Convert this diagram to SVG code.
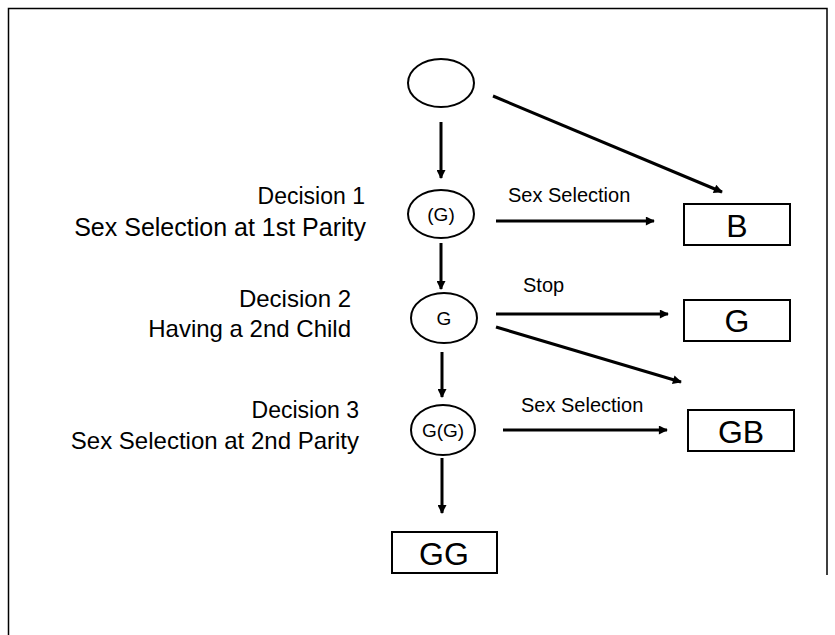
<svg xmlns="http://www.w3.org/2000/svg" width="835" height="635" viewBox="0 0 835 635">
<defs>
<marker id="ah" viewBox="0 0 10 10" refX="9" refY="5" markerWidth="3.6" markerHeight="3" markerUnits="strokeWidth" orient="auto">
<path d="M0,0 L10,5 L0,10 z" fill="#000"/>
</marker>
<style>
.n{fill:#fff;stroke:#000;stroke-width:2}
.c{stroke:#000;stroke-width:3;fill:none;marker-end:url(#ah)}
text{font-family:"Liberation Sans",Arial,sans-serif;fill:#000}
.lab{font-size:24px;text-anchor:end}
.el{font-size:20px}
.nt{font-size:19px;text-anchor:middle}
.bt{font-size:32px;text-anchor:middle}
</style>
</defs>
<rect width="835" height="635" fill="#fff"/>
<path d="M8.5,635 V8.5 H827 V575" fill="none" stroke="#000" stroke-width="1.5"/>
<g id="connectors">
<line class="c" x1="441" y1="122" x2="441" y2="178"/>
<line class="c" x1="493" y1="96" x2="722" y2="192"/>
<line class="c" x1="496" y1="221" x2="654" y2="221"/>
<line class="c" x1="441" y1="243" x2="441" y2="289"/>
<line class="c" x1="496" y1="314" x2="668" y2="314"/>
<line class="c" x1="496" y1="327" x2="681" y2="382"/>
<line class="c" x1="442" y1="352" x2="442" y2="397"/>
<line class="c" x1="503" y1="430" x2="667" y2="430"/>
<line class="c" x1="442" y1="458" x2="442" y2="513"/>
<text class="el" x="508" y="202">Sex Selection</text>
<text class="el" x="523" y="292">Stop</text>
<text class="el" x="521" y="412">Sex Selection</text>
</g>
<g id="labels">
<text class="lab" x="365" y="204" style="font-size:23px">Decision 1</text>
<text class="lab" x="366" y="236" style="font-size:25px">Sex Selection at 1st Parity</text>
<text class="lab" x="351" y="307">Decision 2</text>
<text class="lab" x="351" y="337">Having a 2nd Child</text>
<text class="lab" x="359" y="418" style="font-size:23px">Decision 3</text>
<text class="lab" x="359" y="449">Sex Selection at 2nd Parity</text>
</g>
<g id="start"><ellipse class="n" cx="441" cy="83" rx="33" ry="24"/></g>
<g id="d1"><ellipse class="n" cx="441" cy="214" rx="33" ry="24"/><text class="nt" x="441" y="221">(G)</text></g>
<g id="d2"><ellipse class="n" cx="444" cy="318" rx="33" ry="25"/><text class="nt" x="444" y="325">G</text></g>
<g id="d3"><ellipse class="n" cx="443" cy="430" rx="32" ry="25"/><text class="nt" x="443" y="437">G(G)</text></g>
<g id="B"><rect class="n" x="684" y="204" width="106" height="41"/><text class="bt" x="737" y="237">B</text></g>
<g id="G"><rect class="n" x="684" y="300" width="106" height="41"/><text class="bt" x="737" y="332">G</text></g>
<g id="GB"><rect class="n" x="688" y="410" width="106" height="41"/><text class="bt" x="741" y="443">GB</text></g>
<g id="GG"><rect class="n" x="392" y="532" width="105" height="41"/><text class="bt" x="444" y="565">GG</text></g>
</svg>
